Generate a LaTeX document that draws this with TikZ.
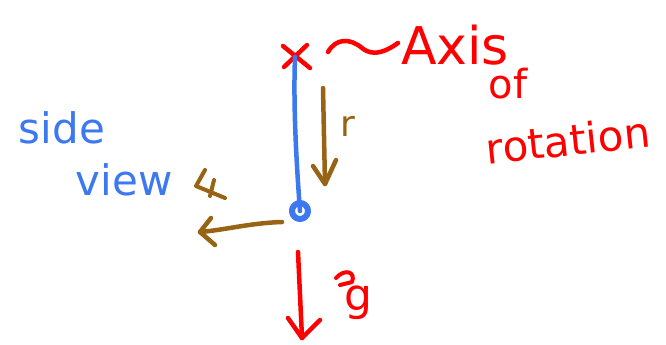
\documentclass[tikz,border=0pt]{standalone}
\usepackage{fontspec}
\setmainfont{DejaVu Sans}
\begin{document}
\begin{tikzpicture}[x=1pt,y=-1pt,
  redink/.style={draw=red,line width=4.5pt,line cap=round,line join=round},
  blueink/.style={draw={rgb,255:red,60;green,120;blue,240},line width=4.5pt,line cap=round,line join=round},
  brownink/.style={draw={rgb,255:red,150;green,100;blue,20},line width=4.5pt,line cap=round,line join=round},
  redtext/.style={text=red,inner sep=0pt,font=\fontsize{40}{44}\selectfont},
  bluetext/.style={text={rgb,255:red,60;green,120;blue,240},inner sep=0pt,font=\fontsize{42}{46}\selectfont},
  browntext/.style={text={rgb,255:red,150;green,100;blue,20},inner sep=0pt,font=\fontsize{36}{40}\selectfont}]
\useasboundingbox (0,0) rectangle (666,345);
\fill[white] (0,0) rectangle (666,345);
% named points
\coordinate (top) at (295,57);
\coordinate (bob) at (300,211);
\coordinate (rs) at (323,88);
\coordinate (re) at (325,184);
\coordinate (ls) at (282,222);
\coordinate (le) at (200,232);
\coordinate (gs) at (298,252);
\coordinate (ge) at (302,338);
% axis marker x
\draw[redink] (283,46) -- (310,68);
\draw[redink] (307,45) -- (284,67);
% tilde
\draw[redink] (328,52) .. controls (336,38) and (350,38) .. (362,48) .. controls (374,58) and (388,50) .. (398,43);
% string
\draw[blueink] (top) .. controls (293,110) and (297,170) .. (bob);
\draw[blueink,line width=6pt] (bob) circle (8);
% r arrow
\draw[brownink] (rs) -- (re);
\draw[brownink] (313,166) -- (re) -- (336,160);
\node[browntext] (rl) at (348,126) {r};
% left arrow
\draw[brownink] (ls) .. controls (250,223) and (225,230) .. (le);
\draw[brownink] (211,218) -- (le) -- (215,245);
% mark near view
\draw[brownink,line width=4pt] (205,170) -- (196,186) -- (225,198);
\draw[brownink,line width=4pt] (214,180) -- (210,196);
% gravity arrow
\draw[redink] (gs) -- (ge);
\draw[redink] (288,318) -- (ge) -- (320,320);
\node[redtext,font=\fontsize{44}{48}\selectfont] (gl) at (358,303) {g};
\draw[redink,line width=4pt] (336,278) .. controls (345,268) and (356,272) .. (352,282) -- (340,285);
% texts
\node[redtext,font=\fontsize{52}{56}\selectfont] (axis) at (455,45) {Axis};
\node[redtext] (of) at (508,84) {of};
\node[redtext,rotate=6,font=\fontsize{42}{46}\selectfont] (rot) at (568,140) {rotation};
\node[bluetext] (side) at (62,128) {side};
\node[bluetext] (view) at (124,180) {view};
\end{tikzpicture}
\end{document}
